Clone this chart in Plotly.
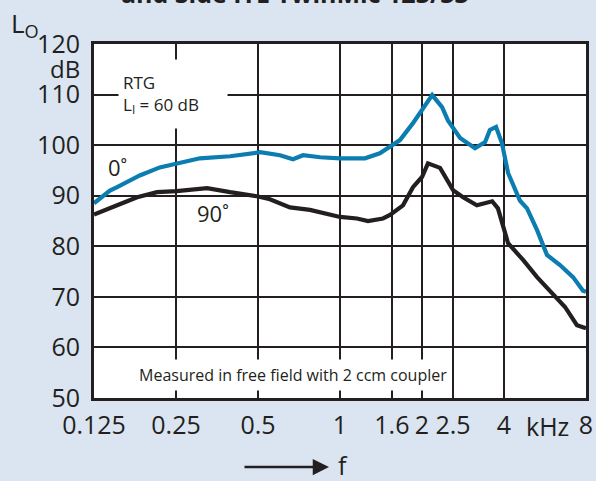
import plotly.graph_objects as go

# Cores
back_color = "#dae5f1"
text_color = "#231f20"
blue_color = "#0b7db0"

# Dados (frequência em kHz, nível em dB)
freq_0 = [0.125, 0.143, 0.152, 0.184, 0.218, 0.251, 0.306, 0.395, 0.509, 0.602, 0.672, 0.732, 0.845,
          1.0, 1.235, 1.40, 1.66, 1.85, 2.0, 2.18, 2.37, 2.49, 2.76, 3.13, 3.41, 3.55, 3.74, 3.93,
          4.14, 4.58, 4.86, 5.29, 5.75, 6.42, 7.17, 7.80, 8.0]
level_0 = [88.5, 91.0, 91.7, 94.0, 95.6, 96.4, 97.4, 97.8, 98.6, 98.0, 97.2, 98.0, 97.6,
           97.4, 97.4, 98.4, 101.0, 104.3, 106.9, 109.9, 107.5, 104.9, 101.4, 99.4, 100.6, 103.0, 103.6, 100.4,
           94.5, 89.0, 87.5, 83.2, 78.3, 76.3, 73.9, 71.2, 71.0]

freq_90 = [0.125, 0.128, 0.152, 0.180, 0.213, 0.251, 0.325, 0.395, 0.496, 0.553, 0.655, 0.776,
           1.0, 1.154, 1.267, 1.438, 1.526, 1.703, 1.853, 2.0, 2.103, 2.33, 2.60, 2.83, 3.18, 3.62, 3.80,
           4.14, 4.70, 5.29, 5.90, 6.70, 7.41, 8.0]
level_90 = [86.3, 86.5, 88.1, 89.7, 90.7, 90.9, 91.5, 90.7, 89.9, 89.3, 87.7, 87.2,
            85.8, 85.5, 85.0, 85.5, 86.2, 88.1, 91.7, 93.7, 96.4, 95.5, 91.1, 89.7, 88.1, 88.9, 87.5,
            80.6, 77.3, 73.9, 71.3, 68.0, 64.4, 63.8]

# Eixos
x_tickvals = [0.125, 0.25, 0.5, 1, 1.55, 2, 2.6, 4, 8]
x_ticktext = ["0.125", "0.25", "0.5", "1", "1.6", "2", "2.5", "4", "8"]
y_tickvals = [50, 60, 70, 80, 90, 100, 110, 120]

# Geometria da área do gráfico (pixels)
L, R, T, B = 94, 586, 44, 398


def px(x):
    return (x - L) / (R - L)


def py(y):
    return (B - y) / (B - T)


fig = go.Figure()
fig.add_trace(go.Scatter(x=freq_0, y=level_0, mode="lines",
                         line=dict(color=blue_color, width=4.2)))
fig.add_trace(go.Scatter(x=freq_90, y=level_90, mode="lines",
                         line=dict(color=text_color, width=4.2)))

fig.update_layout(width=596, height=481, showlegend=False,
                  paper_bgcolor=back_color, plot_bgcolor="white",
                  margin=dict(l=L, r=596 - R, t=T, b=481 - B),
                  font=dict(family="Open Sans", color=text_color, size=25))

fig.update_xaxes(
    type="log",
    range=[-0.90309, 0.90309],
    tickvals=x_tickvals, ticktext=x_ticktext,
    tickfont=dict(size=25, color=text_color),
    showgrid=True, gridcolor=text_color, gridwidth=1.5,
    zeroline=False,
    showline=True, linecolor=text_color, linewidth=3, mirror=True,
    ticks="", ticklabelstandoff=3, automargin=False,
    layer="below traces"
)

fig.update_yaxes(
    range=[50, 120],
    tickvals=y_tickvals,
    tickfont=dict(size=25, color=text_color),
    showgrid=True, gridcolor=text_color, gridwidth=1.5,
    zeroline=False,
    showline=True, linecolor=text_color, linewidth=3, mirror=True,
    ticks="", ticklabelstandoff=6, automargin=False,
    layer="below traces"
)

# Textos (âncoras explícitas)
anot = dict(xref="paper", yref="paper", showarrow=False, xanchor="center", yanchor="middle",
            font=dict(color=text_color))
fig.add_annotation(anot, x=px(295), y=py(-7), text="<b>and Side ITE TwinMic 123/33</b>",
                   font=dict(size=25))
fig.add_annotation(anot, x=px(9), y=py(24), text="L<sub>O</sub>", font=dict(size=26),
                   xanchor="left")
fig.add_annotation(anot, x=px(82), y=py(69), text="dB", font=dict(size=24), xanchor="right")
fig.add_annotation(anot, x=px(118), y=py(94), text="RTG<br>L<sub>I</sub> = 60 dB", font=dict(size=17),
                   xanchor="left", align="left", bgcolor="white", width=100, height=60, borderpad=4)
fig.add_annotation(anot, x=px(293), y=py(375), text="Measured in free field with 2 ccm coupler",
                   font=dict(size=16), bgcolor="white", borderpad=4)
fig.add_annotation(anot, x=px(117), y=py(167), text="0˚", font=dict(size=22))
fig.add_annotation(anot, x=px(213), y=py(213), text="90˚", font=dict(size=22))
fig.add_annotation(anot, x=px(547), y=py(426), text="kHz", font=dict(size=25))
fig.add_annotation(anot, x=px(343), y=py(465), text="f", font=dict(size=25))
fig.add_annotation(xref="paper", yref="paper", x=px(329), y=py(467), ax=-86, ay=0, text="",
                   showarrow=True, arrowhead=2, arrowsize=1.3, arrowwidth=2.5, arrowcolor=text_color)

# Remove a margem da página
fig.write_html("out.html", config={"displayModeBar": False},
               post_script="document.body.style.margin='0';document.body.style.overflow='hidden';")
